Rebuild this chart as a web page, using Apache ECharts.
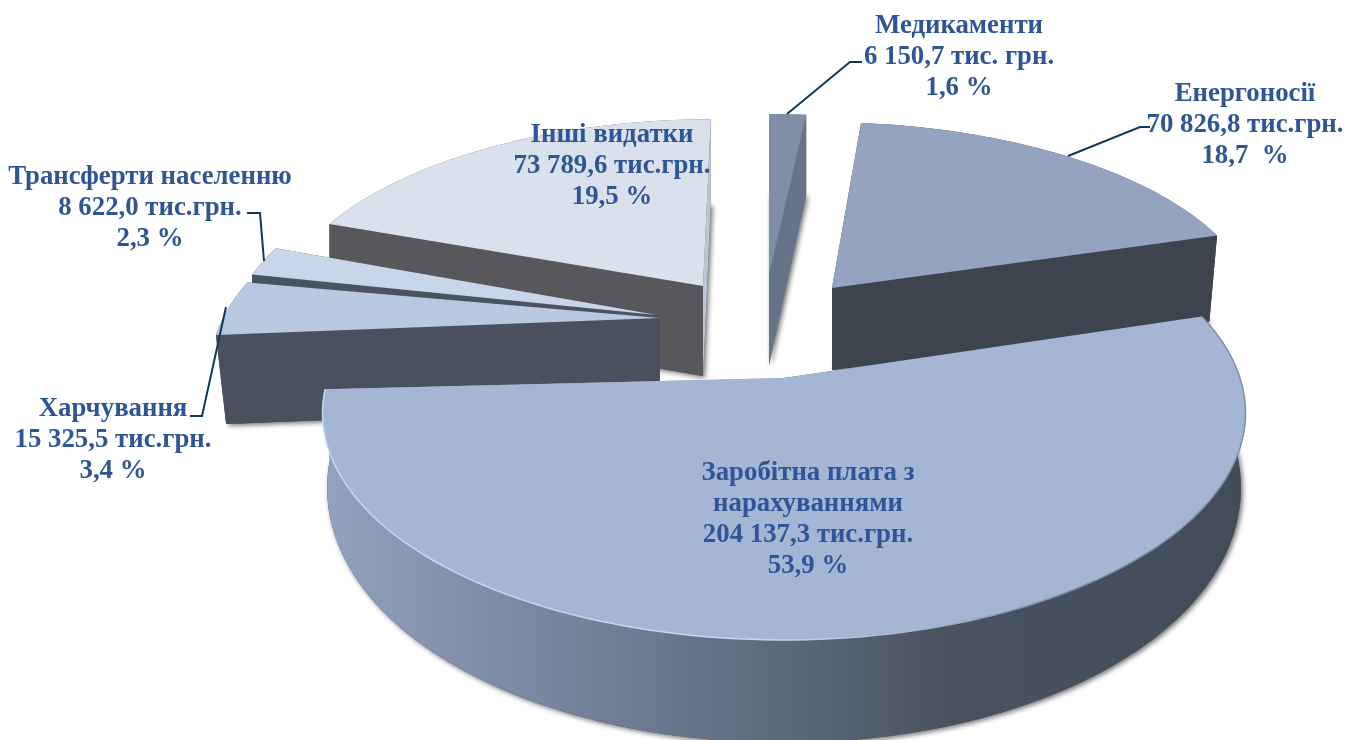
<!DOCTYPE html>
<html><head><meta charset="utf-8">
<style>html,body{margin:0;padding:0;background:#fff}#c{width:1346px;height:740px}</style>
<script src="https://cdn.jsdelivr.net/npm/echarts@6/dist/echarts.min.js"></script>
</head><body><div id="c"></div>
<script>
// --- data ---
const categories = ['Медикаменти','Енергоносії','Заробітна плата з нарахуваннями','Харчування','Трансферти населенню','Інші видатки'];
const values = [6150.7,70826.8,204137.3,15325.5,8622.0,73789.6];
const nameLines = [['Медикаменти'],['Енергоносії'],['Заробітна плата з','нарахуваннями'],['Харчування'],['Трансферти населенню'],['Інші видатки']];
const amountLabels = ['6 150,7 тис. грн.','70 826,8 тис.грн.','204 137,3 тис.грн.','15 325,5 тис.грн.','8 622,0 тис.грн.','73 789,6 тис.грн.'];
const percentLabels = ['1,6 %','18,7  %','53,9 %','3,4 %','2,3 %','19,5 %'];

// --- layout / styling, index-aligned with categories ---
const startAngle = 90;
const slices = [
 {cx:769,cy:275,R:420,A:185,p:.15,sh:0,rot:0,H:90,hp:.11,xs:1,z:1,top:'#7f8da5',wall:'#667389',c0:'#667389',c1:'#667389',shadow:1},
 {cx:832,cy:288,R:421,A:188,p:.134,sh:10,rot:0,H:82,hp:-.17,xs:.98,z:2,top:'#94a3bf',wall:'#3d444e',c0:'#3d444e',c1:'#3d444e',shadow:1},
 {cx:784,cy:378,R:456,A:221.6,p:.154,sh:0,rot:0,H:70,hp:.47,xs:.99,z:6,top:'#a5b6d4',
  wallGrad:[[0,'#91a3c0'],[.3,'#727f97'],[.68,'#49535f'],[1,'#424c59']],c0:'#434d5a',c1:'#8fa1bd',shadow:1,rim:1},
 {cx:660,cy:318,R:437,A:210,p:.15,sh:-40,rot:1.7,H:89,hp:0,xs:.977,z:5,top:'#b9c9e2',wall:'#4a515c',c0:'#4a515c',c1:'#4a515c',shadow:1},
 {cx:657,cy:315,R:426,A:206,p:.15,sh:0,rot:0,H:90,hp:0,xs:1,z:4,top:'#c9d5e8',wall:'#4a535f',c0:'#4a535f',c1:'#4a535f',shadow:0},
 {cx:703,cy:286,R:421,A:192,p:.152,sh:-9,rot:0,H:90,hp:.06,xs:1,z:3,top:'#d9e1ed',wall:'#58585c',c0:'#58585c',c1:'#bcc6d5',shadow:1}
];
const labelBoxes = [
 {x:959,y:26},{x:1245,y:94},{x:808,y:473},{x:113,y:409},{x:150,y:177},{x:612,y:135}
];
const leaders = [
 [[787,114],[850,62],[862,62]],
 [[1068,156],[1140,127],[1150,127]],
 null,
 [[226,307],[202,416],[190,416]],
 [[247,213],[260,213],[264,261]],
 null
];
const labelColor = '#2f5597', leaderColor = '#0f3a5f';

const total = values.reduce((a,b)=>a+b,0);
function proj(s,th,r,low){
  const t=(th+s.rot)*Math.PI/180, u=r*Math.cos(t), v=-r*Math.sin(t), k=1/(1-s.p*v);
  let x=(s.R*u+s.sh*v)*k, y=s.A*v*k;
  if(low){ x*=s.xs; y+=s.H*(1+s.hp*v); }
  return [s.cx+x, s.cy+y];
}
function arc(s,a,b,low){
  const n=Math.max(4,Math.ceil(Math.abs(a-b)/1.5)), out=[];
  for(let i=0;i<=n;i++) out.push(proj(s,a+(b-a)*i/n,1,low));
  return out;
}
function renderSlice(params,api){
  const i=params.dataIndex, s=slices[i];
  let before=0; for(let j=0;j<i;j++) before+=values[j];
  const a=startAngle-before/total*360, b=a-api.value(0)/total*360;
  const ap=proj(s,0,0,false), apL=proj(s,0,0,true);
  const A=proj(s,a,1,false), AL=proj(s,a,1,true), B=proj(s,b,1,false), BL=proj(s,b,1,true);
  const topArc=arc(s,a,b,false), lowArc=arc(s,a,b,true);
  const wallFill=s.wallGrad?new echarts.graphic.LinearGradient(0,0,1,0,s.wallGrad.map(g=>({offset:g[0],color:g[1]}))):s.wall;
  const ch=[];
  // ground sector carrying the soft shadow, then the outer wall, the two cut faces, the top
  if(s.shadow) ch.push({type:'polygon',z2:s.z*10,shape:{points:[apL].concat(lowArc)},
    style:{fill:s.c0,shadowColor:'rgba(0,0,0,.55)',shadowBlur:5,shadowOffsetX:2,shadowOffsetY:2}});
  ch.push({type:'polygon',z2:s.z*10+1,shape:{points:topArc.concat(lowArc.slice().reverse())},style:{fill:wallFill}});
  ch.push({type:'polygon',z2:s.z*10+2,shape:{points:[A,ap,apL,AL]},style:{fill:s.c0}});
  ch.push({type:'polygon',z2:s.z*10+2,shape:{points:[B,ap,apL,BL]},style:{fill:s.c1}});
  ch.push({type:'polygon',z2:s.z*10+3,shape:{points:[ap].concat(topArc)},style:{fill:s.top}});
  if(s.rim) ch.push({type:'polyline',z2:s.z*10+4,shape:{points:topArc},style:{fill:null,lineWidth:1.5,
    stroke:new echarts.graphic.LinearGradient(0,0,1,0,[{offset:0,color:'#c5d7f3'},{offset:.5,color:'#c5d7f3'},{offset:.62,color:'#a9b9d4'},{offset:.8,color:'#7f8ca3'},{offset:1,color:'#7f8ca3'}])}});
  return {type:'group',children:ch};
}
function renderLabel(params){
  const i=params.dataIndex, box=labelBoxes[i], lines=nameLines[i].concat([amountLabels[i],percentLabels[i]]);
  const ch=lines.map((t,k)=>({type:'text',z2:200,style:{x:box.x,y:box.y+k*31,text:t,fill:labelColor,
    font:'bold 26.8px "Liberation Serif", serif',textAlign:'center',textVerticalAlign:'middle'}}));
  if(leaders[i]) ch.push({type:'polyline',z2:190,shape:{points:leaders[i]},style:{fill:null,stroke:leaderColor,lineWidth:2}});
  return {type:'group',children:ch};
}
const chart=echarts.init(document.getElementById('c'),null,{renderer:'canvas'});
chart.setOption({
  animation:false,
  backgroundColor:'#fff',
  series:[
    {type:'custom',coordinateSystem:'none',silent:true,data:values.map((v,i)=>({name:categories[i],value:[v]})),renderItem:renderSlice,z:1},
    {type:'custom',coordinateSystem:'none',silent:true,data:values.map((v,i)=>({name:categories[i],value:[v]})),renderItem:renderLabel,z:2}
  ]
});
</script></body></html>
